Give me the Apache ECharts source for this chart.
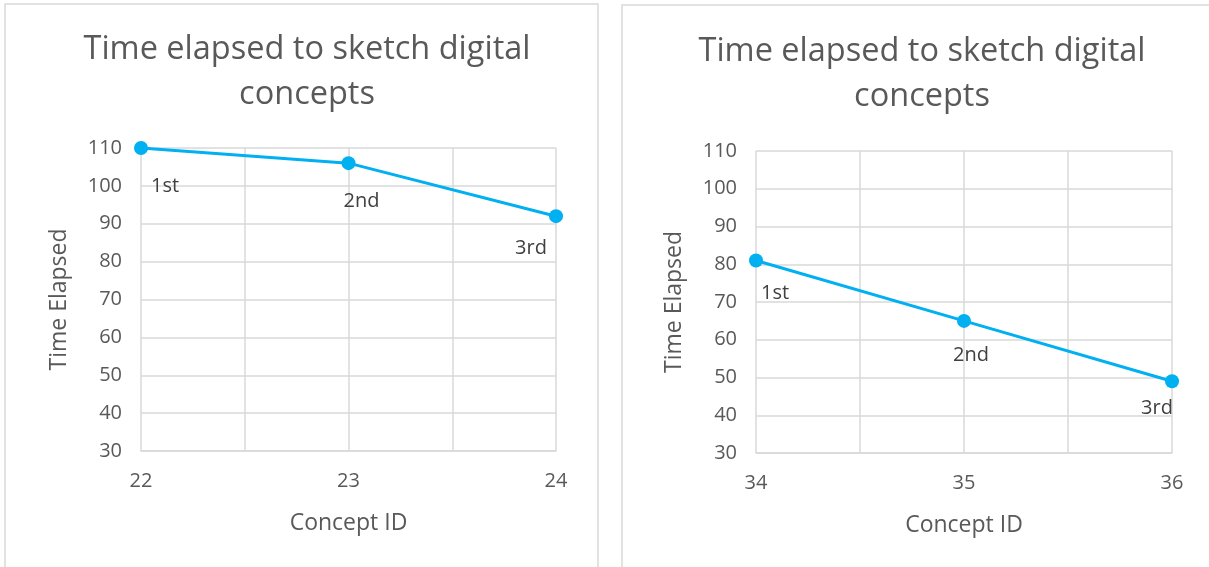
<!DOCTYPE html>
<html>
<head>
<meta charset="utf-8">
<script src="https://cdn.jsdelivr.net/npm/echarts@6/dist/echarts.min.js"></script>
<style>
  html, body { margin: 0; padding: 0; background: #ffffff; }
  #chart { width: 1209px; height: 567px; }
</style>
</head>
<body>
<div id="chart"></div>
<script>
// Sketch timing for two sets of digital concepts
const titleText = 'Time elapsed to sketch digital\nconcepts';
const yTicks = [30, 40, 50, 60, 70, 80, 90, 100, 110];

const conceptsA = [22, 23, 24];
const timeA = [110, 106, 92];
const conceptsB = [34, 35, 36];
const timeB = [81, 65, 49];
const orderLabels = ['1st', '2nd', '3rd'];

const FONT = '"Open Sans", Lato, sans-serif';
const TEXT = '#595959';
const GRID = '#d9d9d9';
const LINE = '#00b0f0';

// label nudges for each point, per panel
const nudgeA = [[24, 11], [13, 11], [-25, 5]];
const nudgeB = [[19, 6], [7, 7], [-15, 0]];

function points(xs, ys, nudges) {
  return xs.map((x, i) => ({
    value: [x, ys[i]],
    label: { offset: nudges[i] }
  }));
}

const chart = echarts.init(document.getElementById('chart'), null, { renderer: 'canvas' });

function xAxisFor(idx, xs) {
  return {
    type: 'value', gridIndex: idx,
    min: xs[0], max: xs[xs.length - 1], interval: 0.5,
    name: 'Concept ID', nameLocation: 'middle', nameGap: 61,
    nameTextStyle: { color: TEXT, fontSize: 23, fontFamily: FONT },
    axisLine: { show: true, lineStyle: { color: GRID, width: 1.5 } },
    axisTick: { show: false },
    axisLabel: {
      color: TEXT, fontSize: 20, fontFamily: FONT, margin: 20,
      formatter: v => (Number.isInteger(v) ? String(v) : '')
    },
    splitLine: { show: true, lineStyle: { color: GRID, width: 1.5 } }
  };
}

function yAxisFor(idx) {
  return {
    type: 'value', gridIndex: idx,
    min: yTicks[0], max: yTicks[yTicks.length - 1], interval: 10,
    name: 'Time Elapsed', nameLocation: 'middle', nameGap: 70,
    nameTextStyle: { color: TEXT, fontSize: 23, fontFamily: FONT },
    axisLine: { show: false }, axisTick: { show: false },
    axisLabel: { color: TEXT, fontSize: 20, fontFamily: FONT, margin: 19 },
    splitLine: { show: true, lineStyle: { color: GRID, width: 1.5 } }
  };
}

function lineSeries(idx, data) {
  return {
    type: 'line', xAxisIndex: idx, yAxisIndex: idx,
    data: data,
    symbol: 'circle', symbolSize: 14,
    lineStyle: { color: LINE, width: 3 },
    itemStyle: { color: LINE },
    label: {
      show: true, position: 'bottom', distance: 10,
      color: '#404040', fontSize: 20, fontFamily: FONT,
      formatter: p => orderLabels[p.dataIndex]
    },
    z: 3
  };
}

chart.setOption({
  animation: false,
  backgroundColor: '#ffffff',
  graphic: [
    { type: 'rect', shape: { x: 5, y: 4, width: 593, height: 600 },
      style: { fill: 'none', stroke: '#d9d9d9', lineWidth: 1.5 }, silent: true },
    { type: 'rect', shape: { x: 622, y: 5, width: 600, height: 600 },
      style: { fill: 'none', stroke: '#d9d9d9', lineWidth: 1.5 }, silent: true }
  ],
  title: [
    { text: titleText, left: 302, top: 22, textAlign: 'center',
      textStyle: { color: TEXT, fontSize: 32.5, fontWeight: 'normal', fontFamily: FONT, lineHeight: 45 } },
    { text: titleText, left: 917, top: 24, textAlign: 'center',
      textStyle: { color: TEXT, fontSize: 32.5, fontWeight: 'normal', fontFamily: FONT, lineHeight: 45 } }
  ],
  grid: [
    { left: 141, top: 148, width: 415, height: 303 },
    { left: 756, top: 151, width: 416, height: 302 }
  ],
  xAxis: [xAxisFor(0, conceptsA), xAxisFor(1, conceptsB)],
  yAxis: [yAxisFor(0), yAxisFor(1)],
  series: [
    lineSeries(0, points(conceptsA, timeA, nudgeA)),
    lineSeries(1, points(conceptsB, timeB, nudgeB))
  ]
});
</script>
</body>
</html>
